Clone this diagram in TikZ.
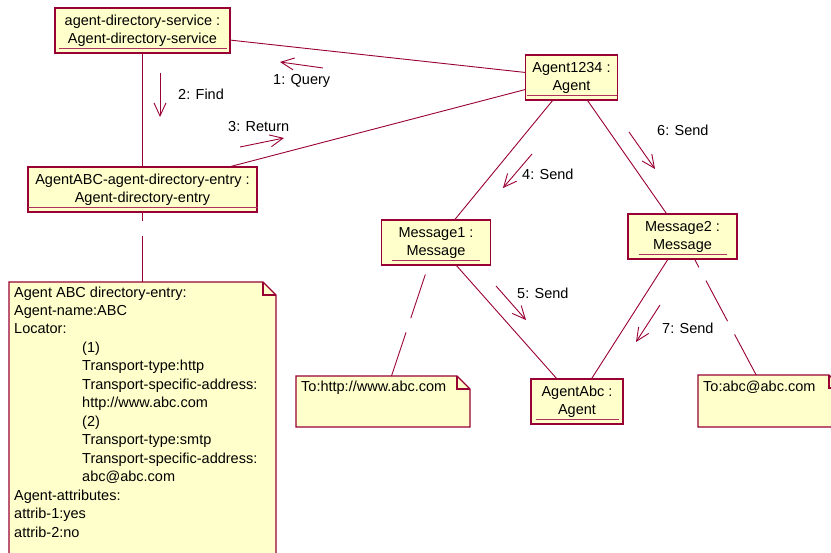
\documentclass[tikz,border=0pt]{standalone}
\usepackage{fontspec}
\setmainfont{Liberation Sans}
\usetikzlibrary{arrows.meta}
\definecolor{umlline}{HTML}{990033}
\definecolor{umlfill}{HTML}{FFFFCC}

% object box: name, centre x, top y, width, first line, second line, half length of underline
\newcommand\umlobject[7]{%
  \node[objbox, minimum width=#4pt] (#1) at (#2,#3+22.5) {};
  \node[objtext] (#1-inst) at (#2,#3+18) {#5};
  \node[objtext] (#1-cls) at (#2,#3+36) {#6};
  \draw[uline] (#2-#7,#3+40) -- (#2+#7,#3+40);
}
% note with folded corner: name, left, top, right, bottom
\newcommand\umlnote[5]{%
  \node[notebox, minimum width={(#4-#2)*1pt}, minimum height={(#5-#3)*1pt}]
    (#1) at ({(#2+#4)/2},{(#3+#5)/2}) {};
  \draw[notedraw] (#1.north west) -- ([xshift=-13pt]#1.north east)
    -- ([yshift=-13pt]#1.north east) -- (#1.south east) -- (#1.south west) -- cycle;
  \draw[notefold] ([xshift=-13pt]#1.north east) |- ([yshift=-13pt]#1.north east);
}
% message arrow with its label: id, start, end, label base point, text
\newcommand\msgarrow[5]{%
  \coordinate (#1-from) at (#2);
  \coordinate (#1-to) at (#3);
  \draw[msg] (#1-from) -- (#1-to);
  \node[msglabel] (#1-label) at (#4) {#5};
}

\begin{document}
\begin{tikzpicture}[x=1pt,y=-1pt,
  every node/.style={font=\fontsize{14.5}{18.46}\selectfont, text=black},
  objbox/.style={draw=umlline, fill=umlfill, line width=1.3pt, minimum height=45pt,
    inner sep=0pt, rectangle},
  objtext/.style={anchor=base, inner sep=0pt},
  uline/.style={draw=umlline!80, line width=0.9pt},
  link/.style={draw=umlline, line width=0.9pt},
  anchorline/.style={draw=umlline, line width=0.9pt, dash pattern=on 46pt off 15pt},
  msg/.style={draw=umlline, line width=0.9pt, -{Straight Barb[length=13pt, width=12pt]}},
  msglabel/.style={anchor=base west, inner sep=0pt},
  notebox/.style={inner sep=0pt, outer sep=0pt, rectangle},
  notedraw/.style={draw=umlline, fill=umlfill, line width=1.3pt},
  notefold/.style={draw=umlline, line width=1.3pt},
  notetext/.style={anchor=base west, inner sep=0pt, align=left},
]
\clip (0,0) rectangle (831,553);
\fill[white] (0,0) rectangle (831,553);

% objects
\umlobject{ads}{142.5}{8}{175}{agent-directory-service :}{Agent-directory-service}{84}
\umlobject{a1234}{571.5}{55}{92}{Agent1234 :}{Agent}{45}
\umlobject{entry}{142.5}{167}{229}{AgentABC-agent-directory-entry :}{Agent-directory-entry}{115}
\umlobject{msg1}{436}{220}{109}{Message1 :}{Message}{44}
\umlobject{msg2}{682.5}{214}{109}{Message2 :}{Message}{44}
\umlobject{abc}{577}{379}{92}{AgentAbc :}{Agent}{41.5}

% notes (the multi-line text is placed by the baseline of its last line)
\umlnote{bignote}{9}{282}{276}{620}
\node[notetext] (bignote-text) at (14,537) {Agent ABC directory-entry:\\
Agent-name:ABC\\
Locator:\\
\hspace*{68pt}(1)\\
\hspace*{68pt}Transport-type:http\\
\hspace*{68pt}Transport-specific-address:\\
\hspace*{68pt}http://www.abc.com\\
\hspace*{68pt}(2)\\
\hspace*{68pt}Transport-type:smtp\\
\hspace*{68pt}Transport-specific-address:\\
\hspace*{68pt}abc@abc.com\\
Agent-attributes:\\
attrib-1:yes\\
attrib-2:no};
\umlnote{note1}{296}{376}{470}{427}
\node[notetext] (note1-text) at (301,392) {To:http://www.abc.com};
\umlnote{note2}{698}{375}{842}{427}
\node[notetext] (note2-text) at (703,392) {To:abc@abc.com};

% links between objects
\draw[link] (ads) -- (a1234);
\draw[link] (a1234) -- (entry);
\draw[link] (ads) -- (entry);
\draw[link] (a1234) -- (msg1);
\draw[link] (a1234) -- (msg2);
\draw[link] (msg1) -- (abc);
\draw[link] (msg2) -- (abc);

% note anchors
\draw[anchorline] (bignote) -- (entry);
\draw[anchorline] (note1) -- (msg1);
\draw[anchorline] (note2) -- (msg2);

% messages
\msgarrow{m1}{323,68}{280,62}{273,85}{1: Query}
\msgarrow{m2}{160,73}{160,117}{178,100}{2: Find}
\msgarrow{m3}{240,147}{284,138}{228,131.5}{3: Return}
\msgarrow{m4}{532,154}{503,188}{522,180}{4: Send}
\msgarrow{m5}{496,286}{526,320}{517,299}{5: Send}
\msgarrow{m6}{629,132}{655,169}{657,136}{6: Send}
\msgarrow{m7}{660,305}{636,342}{662,334}{7: Send}
\end{tikzpicture}
\end{document}
